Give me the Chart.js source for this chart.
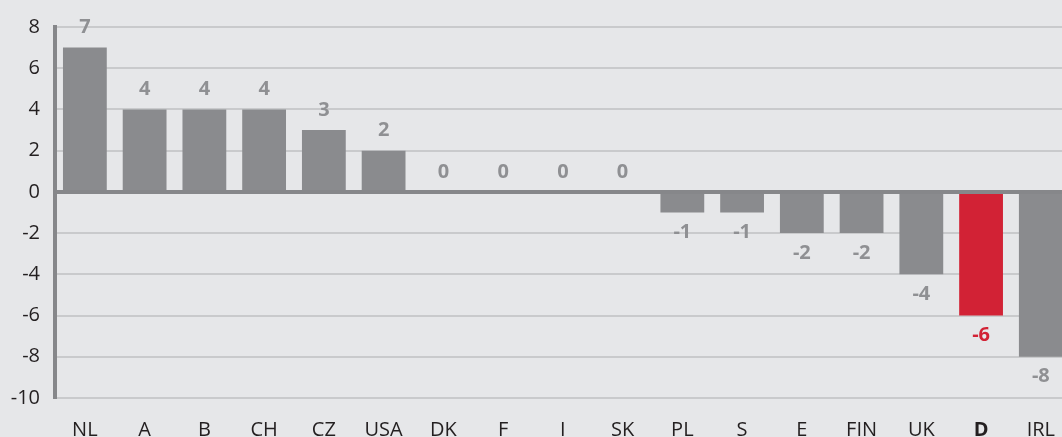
<!DOCTYPE html>
<html>
<head>
<meta charset="utf-8">
<script src="https://cdn.jsdelivr.net/npm/chart.js@4/dist/chart.umd.min.js"></script>
<style>
  html, body { margin: 0; padding: 0; background: #e6e7e9; overflow: hidden; }
  #wrap { width: 1062px; height: 437px; overflow: hidden; }
</style>
</head>
<body>
<div id="wrap"><canvas id="chart" width="1075" height="462"></canvas></div>
<script>
// =================== DATOS ===================
const paises = ['NL', 'A', 'B', 'CH', 'CZ', 'USA', 'DK', 'F', 'I', 'SK', 'PL', 'S', 'E', 'FIN', 'UK', 'D', 'IRL'];
const valores = [7, 4, 4, 4, 3, 2, 0, 0, 0, 0, -1, -1, -2, -2, -4, -6, -8];
const destacado = 'D';
const ticksY = [8, 6, 4, 2, 0, -2, -4, -6, -8, -10];

const GRIS = '#8a8b8e';
const GRIS_ETIQ = '#8f9093';
const ROJO = '#d22235';
const FUENTE = "'Open Sans', 'Noto Sans', sans-serif";

const esDestacado = i => paises[i] === destacado;

// linea del cero por encima de las barras
const lineaCero = {
  id: 'lineaCero',
  afterDatasetsDraw(chart) {
    const { ctx, chartArea, scales } = chart;
    const y0 = scales.y.getPixelForValue(0);
    ctx.save();
    ctx.strokeStyle = '#86878a';
    ctx.lineWidth = 4;
    ctx.beginPath();
    ctx.moveTo(chartArea.left, y0);
    ctx.lineTo(chartArea.right, y0);
    ctx.stroke();
    ctx.restore();
  }
};

// etiquetas de valor encima / debajo de cada barra
const etiquetas = {
  id: 'etiquetas',
  afterDatasetsDraw(chart) {
    const { ctx } = chart;
    const meta = chart.getDatasetMeta(0);
    ctx.save();
    ctx.font = `bold 20px ${FUENTE}`;
    ctx.textAlign = 'center';
    ctx.textBaseline = 'middle';
    meta.data.forEach((bar, i) => {
      const v = valores[i];
      ctx.fillStyle = esDestacado(i) ? ROJO : GRIS_ETIQ;
      const y = v >= 0 ? bar.y - 20 : bar.y + 20;
      ctx.fillText(String(v), bar.x, y);
    });
    ctx.restore();
  }
};

new Chart(document.getElementById('chart'), {
  type: 'bar',
  data: {
    labels: paises,
    datasets: [{
      data: valores,
      backgroundColor: paises.map((p, i) => esDestacado(i) ? ROJO : GRIS),
      borderWidth: 0,
      categoryPercentage: 1,
      barPercentage: 0.733
    }]
  },
  options: {
    responsive: false,
    animation: false,
    devicePixelRatio: 1,
    layout: { padding: { top: 25, left: 0, right: 0, bottom: 0 } },
    plugins: { legend: { display: false }, tooltip: { enabled: false } },
    scales: {
      x: {
        grid: { display: false, drawTicks: false },
        border: { display: false },
        ticks: {
          padding: 20,
          color: '#231f20',
          font: ctx => ({ family: FUENTE, size: 20, weight: esDestacado(ctx.index) ? 'bold' : 'normal' })
        }
      },
      y: {
        min: -10,
        max: 8,
        afterBuildTicks: s => { s.ticks = ticksY.map(v => ({ value: v })); },
        afterFit: s => { s.width = 55; },
        grid: {
          drawTicks: false,
          color: '#c9cacc',
          lineWidth: 2
        },
        border: { display: true, color: '#86878a', width: 4 },
        ticks: {
          padding: 15,
          color: '#231f20',
          font: { family: FUENTE, size: 20 }
        }
      }
    }
  },
  plugins: [lineaCero, etiquetas]
});
</script>
</body>
</html>
